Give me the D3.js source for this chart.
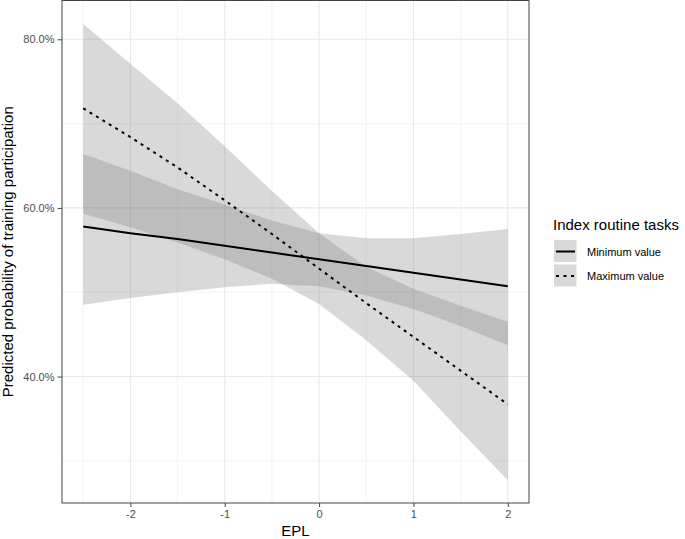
<!DOCTYPE html>
<html>
<head>
<meta charset="utf-8">
<script src="https://cdn.jsdelivr.net/npm/d3@7"></script>
<style>
  html, body { margin: 0; padding: 0; background: #fff; }
  svg { display: block; }
  text { font-family: "Liberation Sans", Arial, sans-serif; }
</style>
</head>
<body>
<svg id="chart" width="685" height="539"></svg>
<script>
// ---- data (percent) ----
const epl = [-2.5, -2, -1.5, -1, -0.5, 0, 0.5, 1, 1.5, 2];
const minFit  = [57.8, 57.0, 56.3, 55.5, 54.7, 53.9, 53.1, 52.3, 51.5, 50.7];
const minLow  = [48.5, 49.3, 50.0, 50.6, 51.0, 50.7, 49.6, 48.0, 46.0, 43.7];
const minHigh = [66.4, 64.4, 62.2, 60.4, 58.5, 57.0, 56.4, 56.4, 56.9, 57.5];
const maxFit  = [71.8, 68.4, 64.8, 60.9, 56.9, 52.8, 48.7, 44.7, 40.7, 36.7];
const maxLow  = [59.3, 57.7, 55.9, 53.9, 51.6, 48.6, 44.3, 39.5, 33.5, 27.7];
const maxHigh = [81.8, 77.1, 72.4, 67.3, 62.0, 57.0, 53.0, 50.4, 48.4, 46.5];
const groups = ["Minimum value", "Maximum value"];
const xTicks = [-2, -1, 0, 1, 2];
const xMinor = [-2.5, -1.5, -0.5, 0.5, 1.5];
const yTicks = [40, 60, 80];
const yMinor = [30, 50, 70];
const xTitle = "EPL";
const yTitle = "Predicted probability of training participation";
const legendTitle = "Index routine tasks";

// ---- layout ----
const svg = d3.select("#chart");
const P = { left: 62, right: 529, top: 0.5, bottom: 503 };
const x = d3.scaleLinear().domain([-2.725, 2.225]).range([P.left, P.right]);
const y = d3.scaleLinear().domain([25.0, 84.6]).range([P.bottom, P.top]);

const series = [
  { name: groups[0], fit: minFit, low: minLow, high: minHigh, dash: null },
  { name: groups[1], fit: maxFit, low: maxLow, high: maxHigh, dash: "3,4.5" }
];
const ribbonFill = "rgb(110,110,110)";
const ribbonOpacity = 0.26;

// panel background
svg.append("rect").attr("x", P.left).attr("y", P.top)
  .attr("width", P.right - P.left).attr("height", P.bottom - P.top)
  .attr("fill", "#fff");

// grid
const grid = svg.append("g");
xMinor.forEach(v => grid.append("line").attr("x1", x(v)).attr("x2", x(v))
  .attr("y1", P.top).attr("y2", P.bottom).attr("stroke", "#f0f0f0").attr("stroke-width", 0.8));
yMinor.forEach(v => grid.append("line").attr("y1", y(v)).attr("y2", y(v))
  .attr("x1", P.left).attr("x2", P.right).attr("stroke", "#f0f0f0").attr("stroke-width", 0.8));
xTicks.forEach(v => grid.append("line").attr("x1", x(v)).attr("x2", x(v))
  .attr("y1", P.top).attr("y2", P.bottom).attr("stroke", "#e8e8e8").attr("stroke-width", 1.1));
yTicks.forEach(v => grid.append("line").attr("y1", y(v)).attr("y2", y(v))
  .attr("x1", P.left).attr("x2", P.right).attr("stroke", "#e8e8e8").attr("stroke-width", 1.1));

// ribbons
const area = d3.area()
  .x(d => x(d.x)).y0(d => y(d.lo)).y1(d => y(d.hi));
series.forEach(s => {
  const pts = epl.map((v, i) => ({ x: v, lo: s.low[i], hi: s.high[i] }));
  svg.append("path").datum(pts).attr("d", area)
    .attr("fill", ribbonFill).attr("fill-opacity", ribbonOpacity);
});

// lines
const line = d3.line().x(d => x(d.x)).y(d => y(d.y));
series.forEach(s => {
  const pts = epl.map((v, i) => ({ x: v, y: s.fit[i] }));
  svg.append("path").datum(pts).attr("d", line)
    .attr("fill", "none").attr("stroke", "#000").attr("stroke-width", 2)
    .attr("stroke-dasharray", s.dash);
});

// panel border
svg.append("rect").attr("x", P.left).attr("y", P.top)
  .attr("width", P.right - P.left).attr("height", P.bottom - P.top)
  .attr("fill", "none").attr("stroke", "#444").attr("stroke-width", 1);

// axes
const gx = svg.append("g").attr("transform", `translate(0,${P.bottom})`)
  .call(d3.axisBottom(x).tickValues(xTicks).tickFormat(d => String(d))
    .tickSize(4).tickPadding(3));
const gy = svg.append("g").attr("transform", `translate(${P.left},0)`)
  .call(d3.axisLeft(y).tickValues(yTicks).tickFormat(d => d.toFixed(1) + "%")
    .tickSize(4.5).tickPadding(3));
[gx, gy].forEach(g => {
  g.select(".domain").remove();
  g.selectAll(".tick line").attr("stroke", "#444");
  g.selectAll(".tick text").attr("fill", "#4d4d4d")
    .style("font-size", "11px").style("font-family", "'Liberation Sans', Arial, sans-serif");
});

// axis titles
svg.append("text").attr("x", (P.left + P.right) / 2).attr("y", 535.5)
  .attr("text-anchor", "middle").attr("fill", "#000").style("font-size", "15px").text(xTitle);
svg.append("text").attr("transform", `translate(12.5,${(P.top + P.bottom) / 2}) rotate(-90)`)
  .attr("text-anchor", "middle").attr("fill", "#000").style("font-size", "15px").text(yTitle);

// legend
const lg = svg.append("g");
lg.append("text").attr("x", 553).attr("y", 230).attr("fill", "#000")
  .style("font-size", "15px").text(legendTitle);
series.forEach((s, i) => {
  const ky = 240 + i * 24.5;
  lg.append("rect").attr("x", 554).attr("y", ky).attr("width", 22.5).attr("height", 22)
    .attr("fill", "#fff");
  lg.append("rect").attr("x", 554).attr("y", ky).attr("width", 22.5).attr("height", 22)
    .attr("fill", ribbonFill).attr("fill-opacity", ribbonOpacity);
  lg.append("line").attr("x1", 556).attr("x2", 575).attr("y1", ky + 11.5).attr("y2", ky + 11.5)
    .attr("stroke", "#000").attr("stroke-width", 2).attr("stroke-dasharray", s.dash);
  lg.append("text").attr("x", 587).attr("y", ky + 15.5).attr("fill", "#000")
    .style("font-size", "11px").text(s.name);
});
</script>
</body>
</html>
